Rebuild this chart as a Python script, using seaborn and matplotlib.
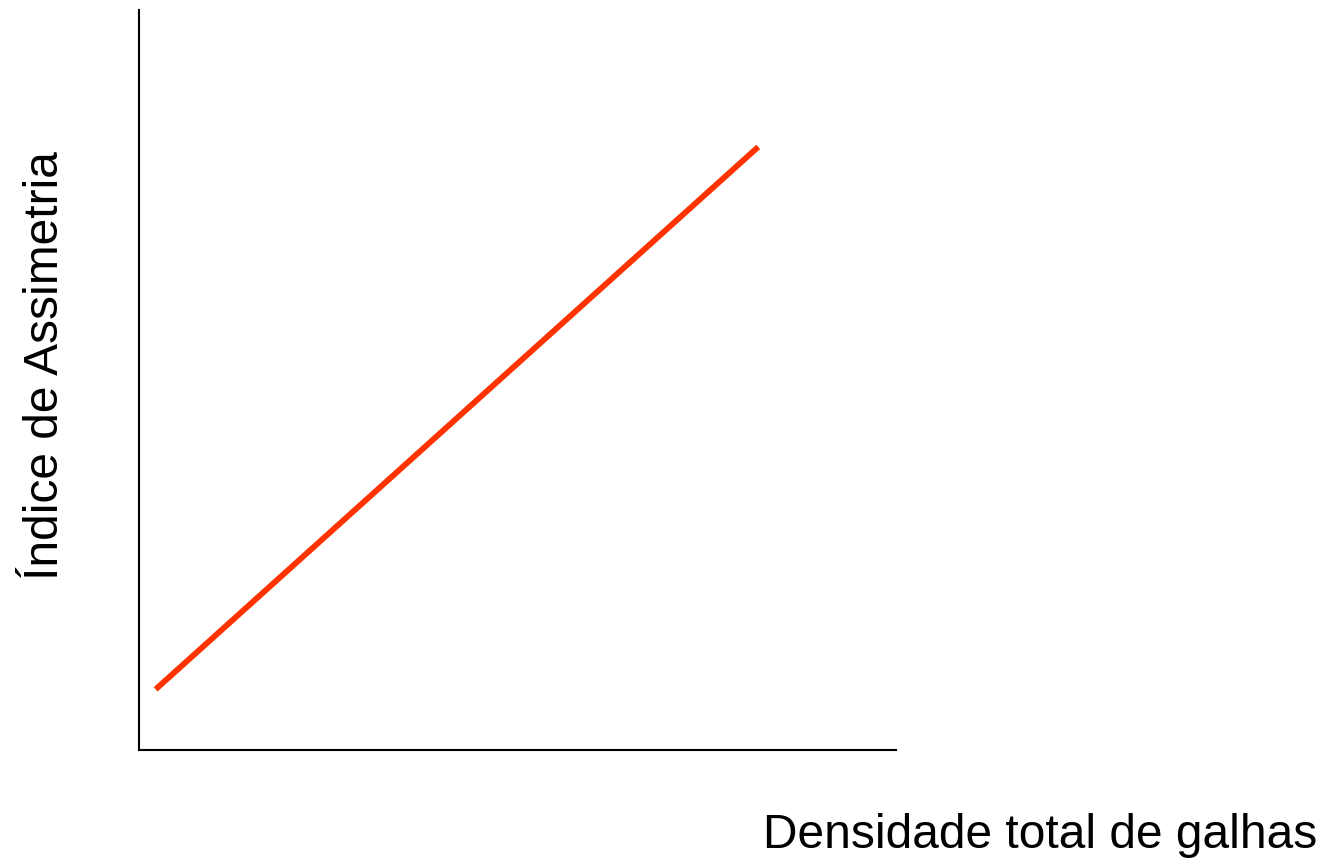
import seaborn as sns
import matplotlib.pyplot as plt
import pandas as pd

# conceptual relation: density of galls vs asymmetry index
densidade = [2.2, 81.8]
assimetria = [8.2, 81.5]

sns.set_theme(style="white")
plt.rcParams['font.family'] = ['Liberation Sans', 'DejaVu Sans']

df = pd.DataFrame({"densidade": densidade, "assimetria": assimetria})

fig = plt.figure(figsize=(13.33, 8.64), dpi=100)
ax = fig.add_axes([139 / 1333, 114 / 864, 757 / 1333, 740 / 864])
sns.lineplot(data=df, x="densidade", y="assimetria", ax=ax,
             color="#ff3300", linewidth=4.2, solid_capstyle="butt")

ax.set_xlim(0, 100)
ax.set_ylim(0, 100)
ax.set_xticks([])
ax.set_yticks([])
sns.despine(ax=ax)
for s in ["left", "bottom"]:
    ax.spines[s].set_color("black")
    ax.spines[s].set_linewidth(1.5)

ax.set_xlabel("Densidade total de galhas", fontsize=34.5, color="black",
              ha="right", va="center")
ax.xaxis.set_label_coords(1.556, -0.115)
ax.set_ylabel("Índice de Assimetria", fontsize=34.5, color="black", va="center")
ax.yaxis.set_label_coords(-0.123, 0.52)

plt.savefig("out.png", dpi=100)
